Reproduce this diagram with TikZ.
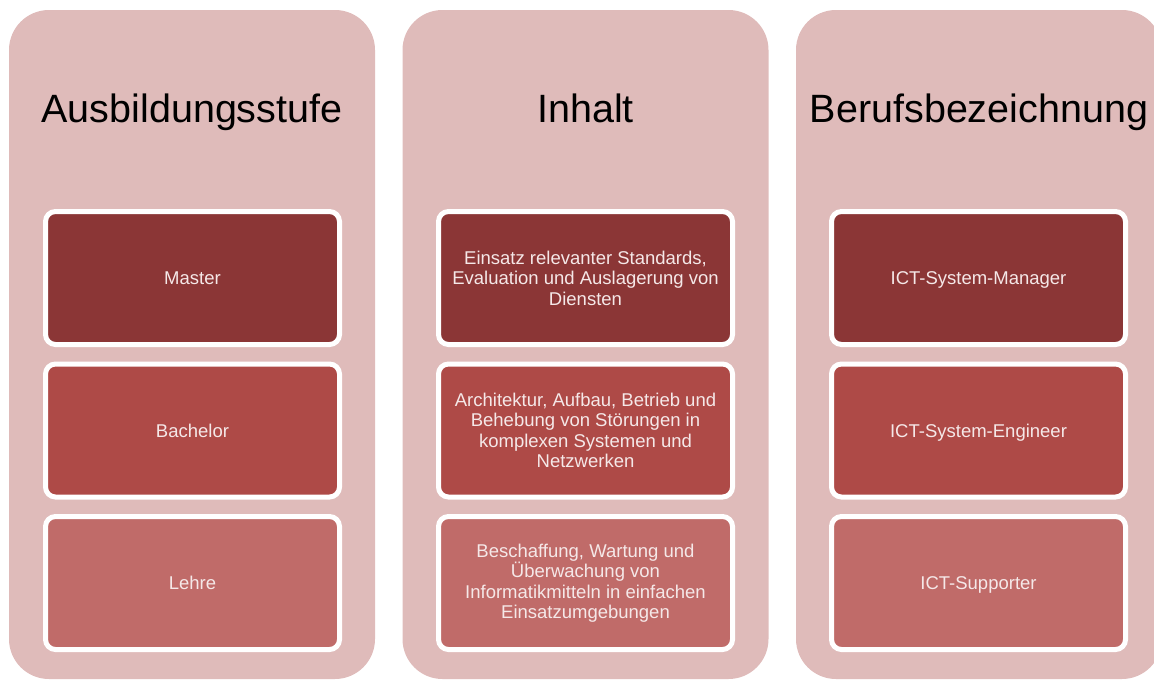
\documentclass[tikz,border=0pt]{standalone}
\usepackage{fontspec}
\setmainfont{Liberation Sans}
\definecolor{colbg}{RGB}{223,187,186}
\definecolor{lvlA}{RGB}{139,54,54}
\definecolor{lvlB}{RGB}{174,74,71}
\definecolor{lvlC}{RGB}{192,107,105}
\definecolor{boxtext}{RGB}{245,232,232}
\begin{document}
\begin{tikzpicture}[x=1pt,y=-1pt,
  column/.style={fill=colbg, draw=none, rounded corners=40pt,
    minimum width=366pt, minimum height=669pt, inner sep=0pt},
  header/.style={anchor=base, font=\fontsize{39.5}{46}\selectfont, text=black},
  item/.style={draw=white, line width=5pt, rounded corners=10pt,
    minimum width=294pt, minimum height=133pt, inner sep=2pt,
    align=center, text=boxtext, font=\fontsize{18.5}{20.5}\selectfont},
  oneline/.style={text depth=0pt},
  levelA/.style={item, fill=lvlA},
  levelB/.style={item, fill=lvlB},
  levelC/.style={item, fill=lvlC}]
\useasboundingbox (0,0) rectangle (1154,680);
\clip (0,0) rectangle (1154,680);

% three columns
\node[column] (c1) at (192,344.5) {};
\node[column] (c2) at (585.5,344.5) {};
\node[column] (c3) at (979,344.5) {};

% column titles
\node[header] (h1) at (192,122) {Ausbildungsstufe};
\node[header] (h2) at (585.5,122) {Inhalt};
\node[header] (h3) at (979,122) {Berufsbezeichnung};

% education level
\node[levelA, oneline] (a1) at (192.5,278) {Master};
\node[levelB, oneline] (a2) at (192.5,430.5) {Bachelor};
\node[levelC, oneline] (a3) at (192.5,583) {Lehre};

% content
\node[levelA] (b1) at (585.5,278) {Einsatz relevanter Standards,\\Evaluation und Auslagerung von\\Diensten};
\node[levelB] (b2) at (585.5,430.5) {Architektur, Aufbau, Betrieb und\\Behebung von Störungen in\\komplexen Systemen und\\Netzwerken};
\node[levelC] (b3) at (585.5,583) {Beschaffung, Wartung und\\Überwachung von\\Informatikmitteln in einfachen\\Einsatzumgebungen};

% job title
\node[levelA, oneline] (d1) at (978.5,278) {ICT-System-Manager};
\node[levelB, oneline] (d2) at (978.5,430.5) {ICT-System-Engineer};
\node[levelC, oneline] (d3) at (978.5,583) {ICT-Supporter};
\end{tikzpicture}
\end{document}
